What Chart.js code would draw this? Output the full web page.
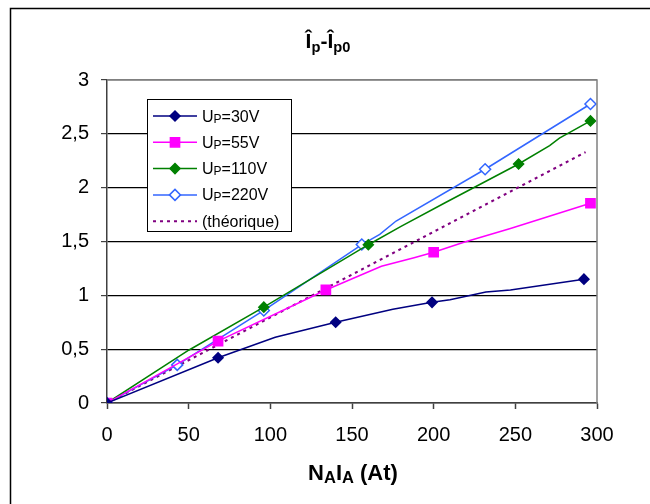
<!DOCTYPE html>
<html>
<head>
<meta charset="utf-8">
<script src="https://cdn.jsdelivr.net/npm/chart.js@4.4.1/dist/chart.umd.min.js"></script>
<style>
    html, body { margin: 0; padding: 0; background: #fff; }
    #wrap { width: 650px; height: 504px; position: relative; }
</style>
</head>
<body>
<div id="wrap"><canvas id="chart"></canvas></div>
<script>
// values (x = NA*IA in At, y = Ip - Ip0)
const up30X = [0, 68, 103, 140, 175, 199, 210, 232, 247, 292];
const up30Y = [0, 0.42, 0.61, 0.75, 0.87, 0.935, 0.96, 1.03, 1.05, 1.15];
const up30Marked = [0, 1, 3, 5, 9];

const up55X = [0, 68, 134, 168, 188, 200, 218, 247, 296];
const up55Y = [0, 0.575, 1.05, 1.27, 1.35, 1.40, 1.49, 1.62, 1.855];
const up55Marked = [0, 1, 2, 5, 8];

const up110X = [0, 50, 96, 160, 180, 207, 252, 271, 277, 296];
const up110Y = [0, 0.49, 0.89, 1.47, 1.64, 1.86, 2.22, 2.39, 2.46, 2.62];
const up110Marked = [0, 2, 3, 6, 9];

const up220X = [0, 43, 96, 156, 167, 177, 231.5, 296];
const up220Y = [0, 0.354, 0.86, 1.472, 1.566, 1.69, 2.171, 2.777];
const up220Marked = [0, 1, 2, 3, 6, 7];

const theoX = [0, 293];
const theoY = [0, 2.33];

const voltages = ['30V', '55V', '110V', '220V'];
const xTicks = [0, 50, 100, 150, 200, 250, 300];
const yTicks = [0, 0.5, 1, 1.5, 2, 2.5, 3];

const FONT = '"Liberation Sans", Arial, sans-serif';

function points(xs, ys) {
    return xs.map((x, i) => ({ x: x, y: ys[i] }));
}

function radii(xs, marked, r) {
    return xs.map((x, i) => (marked.includes(i) ? r : 0));
}

const datasets = [
    {
        label: 'U|P|=' + voltages[0],
        data: points(up30X, up30Y),
        borderColor: '#000080',
        backgroundColor: '#000080',
        borderWidth: 1.5,
        pointStyle: 'rectRot',
        pointRadius: radii(up30X, up30Marked, 5),
    },
    {
        label: 'U|P|=' + voltages[1],
        data: points(up55X, up55Y),
        borderColor: '#ff00ff',
        backgroundColor: '#ff00ff',
        borderWidth: 1.5,
        pointStyle: 'rect',
        pointRadius: radii(up55X, up55Marked, 6.5),
    },
    {
        label: 'U|P|=' + voltages[2],
        data: points(up110X, up110Y),
        borderColor: '#008000',
        backgroundColor: '#008000',
        borderWidth: 1.5,
        pointStyle: 'rectRot',
        pointRadius: radii(up110X, up110Marked, 5),
    },
    {
        label: 'U|P|=' + voltages[3],
        data: points(up220X, up220Y),
        borderColor: '#3366ff',
        backgroundColor: '#ffffff',
        borderWidth: 1.5,
        pointStyle: 'rectRot',
        pointRadius: radii(up220X, up220Marked, 5.5),
    },
    {
        label: '(théorique)',
        data: points(theoX, theoY),
        borderColor: '#800080',
        backgroundColor: '#800080',
        borderWidth: 2,
        borderDash: [3, 4],
        pointRadius: 0,
    },
];

// draws a string where the parts between | are small subscripts
function drawRich(ctx, text, x, y, size, bold, align, subScale, subDrop) {
    const parts = text.split('|');
    const weight = bold ? 'bold ' : '';
    const fontFor = (i) => weight + (i % 2 ? size * subScale : size) + 'px ' + FONT;
    const widths = parts.map((p, i) => {
        ctx.font = fontFor(i);
        return ctx.measureText(p).width;
    });
    const total = widths.reduce((a, b) => a + b, 0);
    let cx = align === 'center' ? x - total / 2 : x;
    ctx.textAlign = 'left';
    ctx.textBaseline = 'alphabetic';
    parts.forEach((p, i) => {
        ctx.font = fontFor(i);
        ctx.fillText(p, cx, y + (i % 2 ? subDrop : 0));
        cx += widths[i];
    });
}

const decor = {
    id: 'decor',
    beforeDraw(chart) {
        const ctx = chart.ctx;
        ctx.save();
        ctx.fillStyle = '#fff';
        ctx.fillRect(0, 0, chart.width, chart.height);
        // outer frame, only its left and top edges are in view
        ctx.strokeStyle = '#000';
        ctx.lineWidth = 1.5;
        ctx.strokeRect(10.5, 8.5, 700, 600);
        ctx.restore();
    },
    afterDatasetsDraw(chart) {
        const ctx = chart.ctx;
        const a = chart.chartArea;
        ctx.save();
        // plot area top and right border
        ctx.strokeStyle = '#808080';
        ctx.lineWidth = 1.5;
        ctx.beginPath();
        ctx.moveTo(a.left, a.top);
        ctx.lineTo(a.right, a.top);
        ctx.lineTo(a.right, a.bottom);
        ctx.stroke();

        // title and axis title
        ctx.fillStyle = '#000';
        drawRich(ctx, 'Î|p|-Î|p0|', 328, 48, 21, true, 'center', 0.7, 4);
        drawRich(ctx, 'N|A|I|A| (At)', 353, 480, 22, true, 'center', 0.75, 3);

        // legend box
        const bx = 147.5, by = 99.5, bw = 144, bh = 132;
        ctx.fillStyle = '#fff';
        ctx.fillRect(bx, by, bw, bh);
        ctx.strokeStyle = '#000';
        ctx.lineWidth = 1;
        ctx.strokeRect(bx, by, bw, bh);
        chart.data.datasets.forEach((ds, i) => {
            const y = 116 + i * 26.3;
            ctx.strokeStyle = ds.borderColor;
            ctx.lineWidth = ds.borderWidth;
            ctx.setLineDash(ds.borderDash || []);
            ctx.beginPath();
            ctx.moveTo(153, y);
            ctx.lineTo(197, y);
            ctx.stroke();
            ctx.setLineDash([]);
            const r = Array.isArray(ds.pointRadius) ? Math.max(...ds.pointRadius) : ds.pointRadius;
            if (r > 0) {
                ctx.fillStyle = ds.backgroundColor;
                ctx.strokeStyle = ds.borderColor;
                ctx.lineWidth = 1.5;
                Chart.helpers.drawPoint(ctx, {
                    pointStyle: ds.pointStyle,
                    radius: r,
                    borderWidth: 1.5,
                }, 175, y);
            }
            ctx.fillStyle = '#000';
            drawRich(ctx, ds.label, 202, y + 5.5, 16, false, 'left', 0.75, 1);
        });
        ctx.restore();
    },
};

new Chart(document.getElementById('chart'), {
    type: 'line',
    data: { datasets: datasets },
    options: {
        responsive: true,
        maintainAspectRatio: false,
        animation: false,
        layout: { padding: { top: 80, right: 53, left: 0, bottom: 0 } },
        plugins: {
            legend: { display: false },
            tooltip: { enabled: false },
        },
        elements: {
            line: { tension: 0 },
            point: { borderWidth: 1.5 },
        },
        scales: {
            x: {
                type: 'linear',
                min: 0,
                max: 300,
                afterFit: (s) => { s.height = 101; },
                afterBuildTicks: (s) => { s.ticks = xTicks.map((v) => ({ value: v })); },
                ticks: {
                    color: '#000',
                    font: { family: FONT, size: 20 },
                    padding: 14,
                    maxRotation: 0,
                },
                grid: {
                    drawOnChartArea: false,
                    drawTicks: true,
                    tickLength: 6,
                    tickColor: '#404040',
                    tickWidth: 1.5,
                },
                border: { color: '#404040', width: 1.5 },
            },
            y: {
                min: 0,
                max: 3,
                afterFit: (s) => { s.width = 107; },
                afterBuildTicks: (s) => { s.ticks = yTicks.map((v) => ({ value: v })); },
                ticks: {
                    color: '#000',
                    font: { family: FONT, size: 20 },
                    padding: 12,
                    callback: (v) => String(v).replace('.', ','),
                },
                grid: {
                    color: (c) => (c.tick && c.tick.value === 3 ? '#808080' : '#000'),
                    lineWidth: 1.2,
                    drawTicks: true,
                    tickLength: 6,
                    tickColor: '#404040',
                },
                border: { color: '#404040', width: 1.5 },
            },
        },
    },
    plugins: [decor],
});
</script>
</body>
</html>
